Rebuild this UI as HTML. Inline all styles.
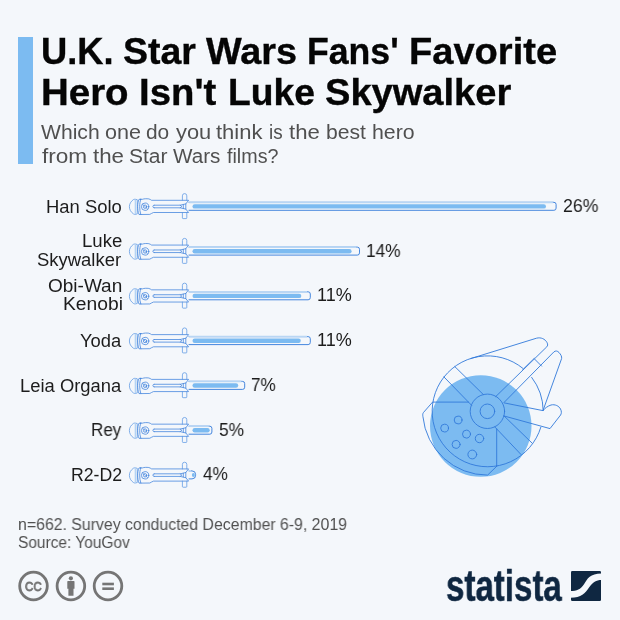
<!DOCTYPE html>
<html lang="en">
<head>
<meta charset="utf-8">
<title>U.K. Star Wars Fans' Favorite Hero Isn't Luke Skywalker</title>
<style>
html,body{margin:0;padding:0;}
body{width:620px;height:620px;overflow:hidden;background:#f4f7fb;font-family:"Liberation Sans","DejaVu Sans",sans-serif;}
#wrap{position:relative;width:620px;height:620px;background:#f4f7fb;overflow:hidden;}
.t{position:absolute;white-space:nowrap;transform-origin:0 0;margin:0;will-change:transform;}
#bar{position:absolute;left:18.3px;top:37.4px;width:14.6px;height:127px;background:#7cbbf1;}
h1.t{font-weight:700;color:#050505;-webkit-text-stroke:0.35px #050505;}
.sub{color:#505050;}
.lab{color:#1c1c1c;}
.val{color:#1c1c1c;}
.foot{color:#505050;}
.w{position:absolute;top:0;white-space:nowrap;transform-origin:0 0;display:block;}
.cc{color:#757575;-webkit-text-stroke:0.9px #757575;}
.logo{font-weight:700;color:#0f2741;-webkit-text-stroke:0.5px #0f2741;}
svg{position:absolute;left:0;top:0;}
</style>
</head>
<body>
<div id="wrap">
<div id="bar"></div>

<svg width="620" height="620" viewBox="0 0 620 620">
<defs>
<g id="hilt" fill="none" stroke="#3c80dc" stroke-width="0.75" stroke-linejoin="round" stroke-linecap="round">
  <path d="M7.9,-6.9 C6.2,-7.4 5.2,-7.4 4.4,-6.9 C1.8,-5 0.4,-2.6 0.4,0.2 C0.4,3 1.8,5.6 4.6,7.5 C5.4,8 6.4,8 7.9,7.5 Z" fill="#f4f7fb" stroke="#5b97e3" stroke-width="0.75"/>
  <path d="M6.4,-6.3 L6.4,6.9" stroke="#b4d3f4" stroke-width="1.4"/>
  <path d="M11.8,-7.2 L10,-7.2 C9,-5 8.7,-2.5 8.7,0 C8.7,2.7 9,5.6 10,8 L11.8,8"/>
  <path d="M11.8,-7.2 L13.5,-7.2 C15,-7.8 17.5,-7.9 19.8,-7.6 C21,-7.3 21.6,-6.8 22.6,-6.2 L59.6,-6.2 L56.8,-2.6 L56.8,2.6 L59.6,6 L24.5,6 C23,6.3 22.2,7.4 20.8,7.9 L11.8,8 C11,5.6 10.7,2.7 10.7,0 C10.7,-2.5 11,-5 11.8,-7.2 Z"/>
  <circle cx="16.1" cy="0.2" r="3.7"/>
  <circle cx="16.1" cy="0.2" r="1.7"/>
  <path d="M13.6,-2.2 L18.6,2.6" stroke-width="0.6"/>
  <path d="M25.2,-1.3 L51.2,-1.3 L56.8,-2.6 M25.2,1.3 L51.2,1.3 L56.8,2.6 M25.2,-1.3 A1.3,1.3 0 0 0 25.2,1.3 M51.2,-1.3 L52.8,0 L51.2,1.3"/>
  <path d="M53.4,-6.2 L53.4,-10.7 A2.2,2.2 0 0 1 57.8,-10.7 L57.8,-6.2" stroke="#5b97e3"/>
  <path d="M53.4,6 L53.4,11.4 Q53.4,12.1 54.1,12.1 L57.1,12.1 Q57.8,12.1 57.8,11.4 L57.8,6" stroke="#5b97e3"/>
  <path d="M54.3,-1.8 L54.3,1.8" />
</g>
</defs>
<g>
<path d="M188.6,202.3 L553.9,202.3 Q556.1,202.3 556.1,204.5 L556.1,208.1 Q556.1,210.3 553.9,210.3 L188.6,210.3" fill="#f4f7fb" stroke="#3179da" stroke-width="0.9"/>
<path d="M189.1,202.3 L552.9,202.3" stroke="#b9d6f4" stroke-width="1.7" fill="none"/>
<rect x="192.5" y="204.2" width="353.5" height="4.4" rx="2.2" fill="#7cbbf1"/>
<use href="#hilt" x="129.0" y="206.50"/>
</g>
<g>
<path d="M188.6,247.1 L357.3,247.1 Q359.5,247.1 359.5,249.3 L359.5,252.9 Q359.5,255.1 357.3,255.1 L188.6,255.1" fill="#f4f7fb" stroke="#3179da" stroke-width="0.9"/>
<path d="M189.1,247.1 L356.3,247.1" stroke="#b9d6f4" stroke-width="1.7" fill="none"/>
<rect x="192.5" y="249.0" width="159.1" height="4.4" rx="2.2" fill="#7cbbf1"/>
<use href="#hilt" x="129.0" y="251.27"/>
</g>
<g>
<path d="M188.6,291.8 L308.1,291.8 Q310.3,291.8 310.3,294.0 L310.3,297.6 Q310.3,299.8 308.1,299.8 L188.6,299.8" fill="#f4f7fb" stroke="#3179da" stroke-width="0.9"/>
<path d="M189.1,291.8 L307.1,291.8" stroke="#b9d6f4" stroke-width="1.7" fill="none"/>
<rect x="192.5" y="293.7" width="108.8" height="4.4" rx="2.2" fill="#7cbbf1"/>
<use href="#hilt" x="129.0" y="296.04"/>
</g>
<g>
<path d="M188.6,336.6 L308.1,336.6 Q310.3,336.6 310.3,338.8 L310.3,342.4 Q310.3,344.6 308.1,344.6 L188.6,344.6" fill="#f4f7fb" stroke="#3179da" stroke-width="0.9"/>
<path d="M189.1,336.6 L307.1,336.6" stroke="#b9d6f4" stroke-width="1.7" fill="none"/>
<rect x="192.5" y="338.5" width="108.3" height="4.4" rx="2.2" fill="#7cbbf1"/>
<use href="#hilt" x="129.0" y="340.81"/>
</g>
<g>
<path d="M188.6,381.4 L242.5,381.4 Q244.7,381.4 244.7,383.6 L244.7,387.2 Q244.7,389.4 242.5,389.4 L188.6,389.4" fill="#f4f7fb" stroke="#3179da" stroke-width="0.9"/>
<path d="M189.1,381.4 L241.5,381.4" stroke="#b9d6f4" stroke-width="1.7" fill="none"/>
<rect x="192.5" y="383.3" width="45.7" height="4.4" rx="2.2" fill="#7cbbf1"/>
<use href="#hilt" x="129.0" y="385.58"/>
</g>
<g>
<path d="M188.6,426.2 L209.8,426.2 Q211.9,426.2 211.9,428.4 L211.9,432.0 Q211.9,434.2 209.8,434.2 L188.6,434.2" fill="#f4f7fb" stroke="#3179da" stroke-width="0.9"/>
<path d="M189.1,426.2 L208.8,426.2" stroke="#b9d6f4" stroke-width="1.7" fill="none"/>
<rect x="192.5" y="428.1" width="17.2" height="4.4" rx="2.2" fill="#7cbbf1"/>
<use href="#hilt" x="129.0" y="430.35"/>
</g>
<g>
<path d="M188.6,470.9 L192.0,470.9 Q195.6,470.9 195.6,474.5 L195.6,475.3 Q195.6,478.9 192.0,478.9 L188.6,478.9" fill="#f4f7fb" stroke="#3179da" stroke-width="0.9"/>
<path d="M189.1,470.9 L191.0,470.9" stroke="#b9d6f4" stroke-width="1.7" fill="none"/>
<ellipse cx="193.4" cy="474.9" rx="1.5" ry="2.0" fill="#7cbbf1"/>
<use href="#hilt" x="129.0" y="475.12"/>
</g>
<circle cx="480.75" cy="426" r="50.75" fill="#7cbbf1"/>
<g fill="none" stroke="#3179da" stroke-width="0.9" stroke-linejoin="round" stroke-linecap="round">
<path d="M540.8,427.3 A55.5,55.5 0 1 1 522.8,368.3 M531.7,377.4 A55.5,55.5 0 0 1 543.2,410.6"/>
<circle cx="487.4" cy="411.3" r="17.2"/>
<circle cx="487.4" cy="411.3" r="7.3"/>
<circle cx="458.1" cy="420" r="3.9"/>
<circle cx="444.6" cy="428.1" r="3.9"/>
<circle cx="466.5" cy="434.1" r="4.0"/>
<circle cx="479.5" cy="438.5" r="4.2"/>
<circle cx="456.1" cy="444.4" r="4.0"/>
<circle cx="472.3" cy="454.5" r="4.4"/>
<path d="M471,358.5 L536.5,338.2 C541,337 545,339 547,342.5 C548,344.5 547.8,345.8 546.8,346.8 L495.8,396.5"/>
<path d="M534.5,359 L541.6,366.1"/>
<path d="M522.6,369.6 L534.2,358.3" stroke-width="0.7"/>
<path d="M504.2,402.3 L553.9,351.9 C555.5,350.5 557.5,350.8 559,352.5 C560.8,354.5 562,356.5 561.6,358.6 L543,410.6"/>
<path d="M504.2,402.9 L542.9,410.6 C545,408 548,406 551,405 C555,404 559,406 560.5,409 C561.8,411.5 561.5,413.5 560.6,415 L550,428.6 L504.1,416"/>
<path d="M504.1,416 L532.2,443.2 M494.8,426.9 L521,454.5"/>
<path d="M496.7,429 L496.7,466.3"/>
<path d="M443.9,376.9 L471.6,405.3 M454.8,366.6 L483.2,394.4 M432.9,402.1 L468.5,402.1"/>
<path d="M432.4,402.3 L423.4,412.6 C422.7,413.6 422.6,414.6 422.9,416.5 A64.8,64.8 0 0 0 487.6,475.1 L496.7,466.3"/>
</g>
<g fill="none" stroke="#757575" stroke-width="2.8">
<circle cx="33.5" cy="586" r="13.8"/>
<circle cx="70.9" cy="586" r="13.8"/>
<circle cx="108.0" cy="586" r="13.8"/>
</g>
<g fill="#757575"><circle cx="70.9" cy="578.3" r="2.1"/><path d="M67.3,581.6 Q67.3,580.9 68,580.9 L73.8,580.9 Q74.5,580.9 74.5,581.6 L74.5,588.8 L73.5,588.8 L73.5,595.8 L68.4,595.8 L68.4,588.8 L67.3,588.8 Z"/>
<rect x="102.3" y="582.7" width="11.6" height="2.6"/><rect x="102.3" y="587.4" width="11.6" height="2.6"/></g>
<rect x="571" y="571" width="30" height="30" rx="1.2" fill="#0f2741"/>
<path d="M570.5,591 C577,591 580.5,589.5 584,584.3 C587.5,578.5 590,573.6 601.5,573.5 L601.5,580 C596,580 593,582 589.2,587.2 C585,593.5 581.5,597.5 570.5,597.8 Z" fill="#f4f7fb"/>
</svg>
<h1 class="t h1" id="t1" style="left:0;top:30px;width:620px;height:44px;font-size:36.5px;line-height:44px;"><span class="w" style="left:41.32px;transform:scaleX(0.9947);">U.K.</span> <span class="w" style="left:122.82px;transform:scaleX(1.0260);">Star</span> <span class="w" style="left:206.03px;transform:scaleX(1.0362);">Wars</span> <span class="w" style="left:306.62px;transform:scaleX(0.9762);">Fans'</span> <span class="w" style="left:409.29px;transform:scaleX(1.0431);">Favorite</span></h1>
<h1 class="t h1" id="t2" style="left:0;top:71px;width:620px;height:44px;font-size:36.5px;line-height:44px;"><span class="w" style="left:41.25px;transform:scaleX(1.0529);">Hero</span> <span class="w" style="left:138.83px;transform:scaleX(1.0501);">Isn't</span> <span class="w" style="left:227.70px;transform:scaleX(1.0198);">Luke</span> <span class="w" style="left:325.08px;transform:scaleX(1.0427);">Skywalker</span></h1>
<div class="t sub" id="s1" style="left:0;top:120px;width:620px;height:24px;font-size:20px;line-height:24px;"><span class="w" style="left:41.27px;transform:scaleX(1.0560);">Which</span> <span class="w" style="left:104.72px;transform:scaleX(1.0786);">one</span> <span class="w" style="left:146.17px;transform:scaleX(1.0451);">do</span> <span class="w" style="left:175.69px;transform:scaleX(1.0919);">you</span> <span class="w" style="left:216.44px;transform:scaleX(1.0994);">think</span> <span class="w" style="left:269.38px;transform:scaleX(0.9423);">is</span> <span class="w" style="left:289.11px;transform:scaleX(1.1072);">the</span> <span class="w" style="left:325.64px;transform:scaleX(1.0569);">best</span> <span class="w" style="left:372.39px;transform:scaleX(1.0655);">hero</span></div>
<div class="t sub" id="s2" style="left:0;top:144px;width:620px;height:24px;font-size:20px;line-height:24px;"><span class="w" style="left:41.98px;transform:scaleX(1.1295);">from</span> <span class="w" style="left:92.77px;transform:scaleX(1.1145);">the</span> <span class="w" style="left:129.14px;transform:scaleX(1.0502);">Star</span> <span class="w" style="left:172.96px;transform:scaleX(1.0326);">Wars</span> <span class="w" style="left:227.15px;transform:scaleX(0.9857);">films?</span></div>
<div class="t lab" id="l0a" style="left:46.22px;top:197px;font-size:17.5px;line-height:21px;transform:scaleX(1.0523);">Han Solo</div>
<div class="t lab" id="l1a" style="left:81.61px;top:231px;font-size:17.5px;line-height:21px;transform:scaleX(1.0629);">Luke</div>
<div class="t lab" id="l1b" style="left:37.35px;top:250px;font-size:17.5px;line-height:21px;transform:scaleX(1.0548);">Skywalker</div>
<div class="t lab" id="l2a" style="left:48.19px;top:276px;font-size:17.5px;line-height:21px;transform:scaleX(1.0857);">Obi-Wan</div>
<div class="t lab" id="l2b" style="left:62.55px;top:294px;font-size:17.5px;line-height:21px;transform:scaleX(1.1014);">Kenobi</div>
<div class="t lab" id="l3a" style="left:79.97px;top:331px;font-size:17.5px;line-height:21px;transform:scaleX(1.0503);">Yoda</div>
<div class="t lab" id="l4a" style="left:20.02px;top:376px;font-size:17.5px;line-height:21px;transform:scaleX(1.0512);">Leia Organa</div>
<div class="t lab" id="l5a" style="left:91.34px;top:420px;font-size:17.5px;line-height:21px;transform:scaleX(0.9729);">Rey</div>
<div class="t lab" id="l6a" style="left:70.99px;top:465px;font-size:17.5px;line-height:21px;transform:scaleX(1.0093);">R2-D2</div>
<div class="t val" id="v0" style="left:562.62px;top:195px;font-size:18px;line-height:22px;transform:scaleX(0.9839);">26%</div>
<div class="t val" id="v1" style="left:365.80px;top:240px;font-size:18px;line-height:22px;transform:scaleX(0.9588);">14%</div>
<div class="t val" id="v2" style="left:317.35px;top:284px;font-size:18px;line-height:22px;transform:scaleX(1.0015);">11%</div>
<div class="t val" id="v3" style="left:317.35px;top:329px;font-size:18px;line-height:22px;transform:scaleX(1.0015);">11%</div>
<div class="t val" id="v4" style="left:250.65px;top:374px;font-size:18px;line-height:22px;transform:scaleX(0.9485);">7%</div>
<div class="t val" id="v5" style="left:218.58px;top:419px;font-size:18px;line-height:22px;transform:scaleX(0.9633);">5%</div>
<div class="t val" id="v6" style="left:203.12px;top:463px;font-size:18px;line-height:22px;transform:scaleX(0.9535);">4%</div>
<div class="t foot" id="f1" style="left:17.71px;top:515px;font-size:16px;line-height:19px;transform:scaleX(0.9903);">n=662. Survey conducted December 6-9, 2019</div>
<div class="t foot" id="f2" style="left:17.98px;top:533px;font-size:16px;line-height:19px;transform:scaleX(0.9664);">Source: YouGov</div>
<div class="t cc" id="cc" style="left:25.26px;top:579px;font-size:13.0px;line-height:16px;transform:scaleX(0.8845);">CC</div>
<div class="t logo" id="lg" style="left:445.86px;top:560px;font-size:43.5px;line-height:52px;transform:scaleX(0.7603);">statista</div>
</div>
</body>
</html>
